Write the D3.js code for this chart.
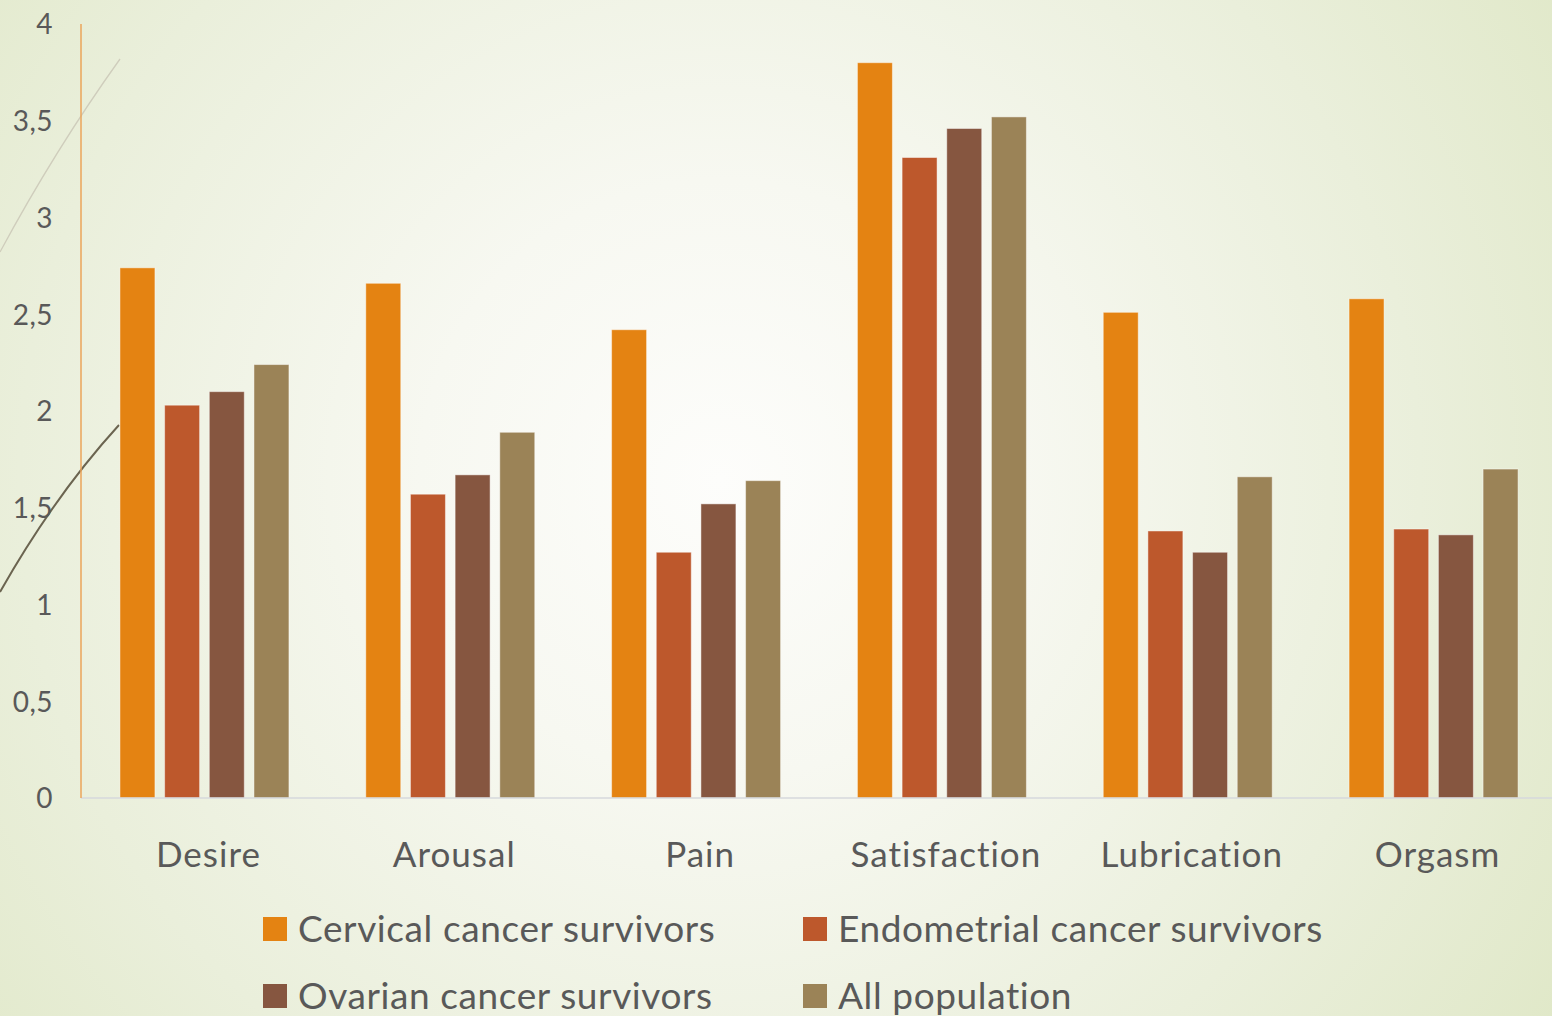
<!DOCTYPE html>
<html>
<head>
<meta charset="utf-8">
<script src="https://cdn.jsdelivr.net/npm/d3@7"></script>
<style>
  html, body { margin: 0; padding: 0; overflow: hidden; background: #eef2e2; }
  svg { display: block; }
  text { font-family: Lato, "Open Sans", sans-serif; fill: #595959; }
</style>
</head>
<body>
<svg id="chart" width="1552" height="1016"></svg>
<script>
const categories = ["Desire", "Arousal", "Pain", "Satisfaction", "Lubrication", "Orgasm"];
const seriesNames = ["Cervical cancer survivors", "Endometrial cancer survivors", "Ovarian cancer survivors", "All population"];
const cervical    = [2.74, 2.66, 2.42, 3.80, 2.51, 2.58];
const endometrial = [2.03, 1.57, 1.27, 3.31, 1.38, 1.39];
const ovarian     = [2.10, 1.67, 1.52, 3.46, 1.27, 1.36];
const allPop      = [2.24, 1.89, 1.64, 3.52, 1.66, 1.70];
const yTicks = [0, 0.5, 1, 1.5, 2, 2.5, 3, 3.5, 4];
const colors = ["#E48312", "#BD582C", "#865640", "#9B8357"];

const seriesValues = [cervical, endometrial, ovarian, allPop];

const W = 1552, H = 1016;
const svg = d3.select("#chart");

// background
const defs = svg.append("defs");
const rg = defs.append("radialGradient").attr("id", "bg")
  .attr("gradientUnits", "userSpaceOnUse")
  .attr("cx", 720).attr("cy", 480).attr("r", 1000);
rg.append("stop").attr("offset", 0).attr("stop-color", "#fdfdfb");
rg.append("stop").attr("offset", 0.3).attr("stop-color", "#f7f8f1");
rg.append("stop").attr("offset", 0.7).attr("stop-color", "#eaefdb");
rg.append("stop").attr("offset", 1).attr("stop-color", "#e0e8c8");
svg.append("rect").attr("width", W).attr("height", H).attr("fill", "url(#bg)");

// decorative lines
svg.append("path")
  .attr("d", "M0,252 Q55,150 120,59")
  .attr("fill", "none").attr("stroke", "#cfcdbc").attr("stroke-width", 1.3);
svg.append("path")
  .attr("d", "M0,592 Q55,495 119,425")
  .attr("fill", "none").attr("stroke", "#6b6450").attr("stroke-width", 2);

// scales
const plotLeft = 81, plotRight = 1557, yTop = 24, yBottom = 798;
const x0 = d3.scaleBand().domain(categories).range([plotLeft, plotRight])
  .paddingInner(0.3126).paddingOuter(0.1585);
const x1 = d3.scaleBand().domain(d3.range(seriesNames.length)).range([0, x0.bandwidth()])
  .paddingInner(0.217).paddingOuter(0);
const y = d3.scaleLinear().domain([0, 4]).range([yBottom, yTop]);

// y axis labels
const yAxis = d3.axisLeft(y).tickValues(yTicks).tickSize(0).tickPadding(0)
  .tickFormat(d => String(d).replace(".", ","));
const gy = svg.append("g").attr("transform", `translate(53,0)`).call(yAxis);
gy.select(".domain").remove();
gy.selectAll("text").style("font-size", "28px").style("letter-spacing", "0.5px")
  .attr("fill", "#595959").attr("dy", "0.35em");

// bars
const groups = svg.append("g").selectAll("g")
  .data(categories).join("g")
  .attr("transform", d => `translate(${x0(d)},0)`);
groups.selectAll("rect")
  .data((c, ci) => seriesValues.map((vals, si) => ({ si, v: vals[ci] })))
  .join("rect")
  .attr("x", d => x1(d.si))
  .attr("width", x1.bandwidth())
  .attr("y", d => y(d.v))
  .attr("height", d => y(0) - y(d.v))
  .attr("fill", d => colors[d.si])
  .attr("stroke", "rgba(255,255,255,0.45)")
  .attr("stroke-width", 1);

// baseline and vertical axis
svg.append("line").attr("x1", plotLeft).attr("x2", W).attr("y1", y(0)).attr("y2", y(0))
  .attr("stroke", "#d6d8dc").attr("stroke-width", 1.5);
svg.append("line").attr("x1", plotLeft).attr("x2", plotLeft).attr("y1", yTop).attr("y2", y(0))
  .attr("stroke", "#EBA45A").attr("stroke-width", 1.5);

// category labels
svg.append("g").selectAll("text").data(categories).join("text")
  .attr("x", d => x0(d) + x0.bandwidth() / 2 + 4)
  .attr("y", 867)
  .attr("text-anchor", "middle")
  .style("font-size", "35px")
  .style("letter-spacing", "1px")
  .text(d => d);

// legend
const legendPos = [[263, 929], [803, 929], [263, 996], [803, 996]];
const lg = svg.append("g").selectAll("g").data(seriesNames).join("g")
  .attr("transform", (d, i) => `translate(${legendPos[i][0]},${legendPos[i][1]})`);
lg.append("rect").attr("x", 0).attr("y", -12).attr("width", 24).attr("height", 24)
  .attr("fill", (d, i) => colors[i]);
lg.append("text").attr("x", 35).attr("y", 0).attr("dy", "0.36em")
  .style("font-size", "37px").style("letter-spacing", "0.6px").text(d => d);
</script>
</body>
</html>
